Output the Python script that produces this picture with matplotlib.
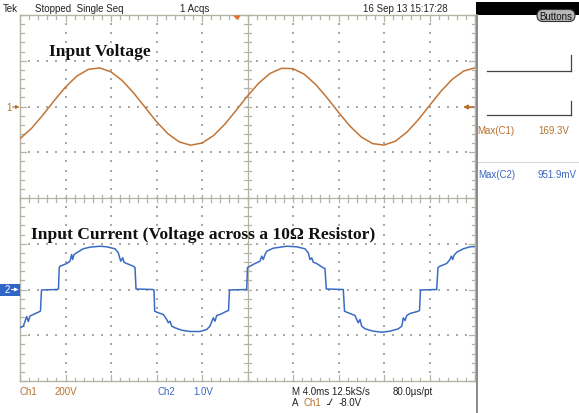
import matplotlib
matplotlib.use('Agg')
import matplotlib.pyplot as plt
from matplotlib.patches import Rectangle, FancyBboxPatch, Polygon

# ---------------- data ----------------
# Channel 1: input voltage, 200 V/div, time in ms (4 ms/div, 10 div)
time_v_ms = [0, 1, 2, 3, 4, 5, 6, 7, 8, 9, 10, 11, 12, 13, 14, 15, 16, 17, 18, 19, 20,
             21, 22, 23, 24, 25, 26, 27, 28, 29, 30, 31, 32, 33, 34, 35, 36, 37, 38, 39, 40]
ch1_volts = [-140.7, -96.1, -38.1, 25.3, 85.2, 133.0, 162.2, 168.7, 151.4, 112.8, 58.5,
             -4.1, -66.2, -118.9, -154.9, -169.2, -159.7, -127.8, -77.9, -17.1, 46.1,
             102.8, 145.1, 167.0, 165.5, 140.7, 96.1, 38.1, -25.3, -85.2, -133.0,
             -162.2, -168.7, -151.4, -112.8, -58.5, 4.1, 66.2, 118.9, 154.9, 169.2]

# Channel 2: voltage across the 10 ohm resistor, 1.0 V/div
time_i_ms = [0.00, 0.29, 0.59, 0.73, 0.88, 1.17, 1.61, 1.80, 1.89, 3.23, 3.38, 3.45, 3.52,
             4.11, 4.40, 4.54, 4.63, 4.75, 4.98, 5.56, 6.15, 7.03, 7.62, 8.35, 8.64, 8.85,
             9.03, 9.14, 9.38, 9.96, 10.11, 10.20, 11.67, 11.78, 11.84, 12.02, 12.60, 12.90,
             13.04, 13.19, 13.34, 13.63, 14.22, 14.95, 15.82, 16.41, 16.70, 16.99, 17.14,
             17.29, 17.58, 18.17, 18.33, 18.42, 19.93, 20.00, 20.22, 20.66, 21.10, 21.25,
             21.39, 21.54, 21.69, 22.27, 23.45, 24.32, 25.05, 25.35, 25.49, 25.64, 25.78,
             26.08, 26.66, 26.81, 26.93, 28.42, 28.53, 28.72, 29.45, 29.60, 29.74, 29.89,
             30.04, 30.33, 31.06, 31.80, 32.53, 33.26, 33.56, 33.70, 33.85, 34.00, 34.29,
             35.02, 35.12, 35.21, 36.63, 36.75, 36.92, 37.51, 37.80, 37.92, 38.04, 38.15,
             38.39, 38.97, 39.56, 40.00]
ch2_volts = [-0.837, -0.802, -0.590, -0.699, -0.579, -0.546, -0.496, -0.470, -0.011, 0.000,
             0.011, 0.481, 0.509, 0.568, 0.619, 0.765, 0.656, 0.765, 0.802, 0.890, 0.925,
             0.946, 0.933, 0.890, 0.802, 0.619, 0.693, 0.597, 0.568, 0.509, 0.481, 0.011,
             0.000, -0.011, -0.474, -0.496, -0.546, -0.656, -0.728, -0.693, -0.802, -0.837,
             -0.890, -0.918, -0.918, -0.874, -0.802, -0.619, -0.693, -0.568, -0.546, -0.474,
             -0.459, -0.011, 0.000, 0.481, 0.509, 0.568, 0.619, 0.728, 0.656, 0.765, 0.837,
             0.903, 0.946, 0.933, 0.890, 0.802, 0.656, 0.693, 0.597, 0.568, 0.474, 0.459,
             0.011, 0.000, -0.474, -0.496, -0.568, -0.656, -0.728, -0.656, -0.802, -0.859,
             -0.911, -0.933, -0.911, -0.859, -0.802, -0.619, -0.678, -0.568, -0.525, -0.474,
             -0.459, -0.011, 0.000, 0.481, 0.509, 0.568, 0.656, 0.728, 0.656, 0.743, 0.815,
             0.890, 0.933, 0.940]

title_voltage = "Input Voltage"
title_current = "Input Current (Voltage across a 10\u03a9 Resistor)"

# ---------------- figure ----------------
W, H = 579, 414
fig = plt.figure(figsize=(W / 100, H / 100), dpi=100)
fig.patch.set_facecolor('white')

deco = fig.add_axes([0, 0, 1, 1])
deco.set_xlim(0, W)
deco.set_ylim(H, 0)
deco.axis('off')

GX0, GX1, GY0, GY1 = 20, 475, 16, 382
DX = (GX1 - GX0) / 10
DY = (GY1 - GY0) / 8
CX = GX0 + 5 * DX
CY = GY0 + 4 * DY

GRID = '#b4b4a4'
DOT = '#a8a8a8'
ORANGE = '#c27434'
BLUE = '#3a6cc4'
TXT_O = '#b8702e'
TXT_B = '#3a66c0'

# dotted division lines
xs, ys = [], []
for i in range(1, 10):
    if i == 5:
        continue
    x = GX0 + i * DX
    for k in range(1, 40):
        xs.append(x); ys.append(GY0 + k * DY / 5)
for j in range(1, 8):
    if j == 4:
        continue
    y = GY0 + j * DY
    for k in range(1, 50):
        xs.append(GX0 + k * DX / 5); ys.append(y)
deco.scatter(xs, ys, s=0.9, c=DOT, marker='s', linewidths=0, zorder=1)

# border and center lines
deco.add_patch(Rectangle((GX0, GY0), GX1 - GX0, GY1 - GY0, fill=False,
                         edgecolor=GRID, lw=1.0, zorder=2))
deco.plot([CX, CX], [GY0, GY1], color=GRID, lw=0.9, zorder=2)
deco.plot([GX0, GX1], [CY, CY], color=GRID, lw=0.9, zorder=2)

# ticks
for k in range(0, 51):
    x = GX0 + k * DX / 5
    major = (k % 5 == 0)
    L = 6 if major else 3.5
    deco.plot([x, x], [GY0, GY0 + L], color=GRID, lw=0.9, zorder=2)
    deco.plot([x, x], [GY1, GY1 - L], color=GRID, lw=0.9, zorder=2)
    deco.plot([x, x], [CY - 3.5, CY + 3.5], color=GRID, lw=0.9, zorder=2)
for k in range(0, 41):
    y = GY0 + k * DY / 5
    major = (k % 5 == 0)
    L = 6 if major else 3.5
    deco.plot([GX0, GX0 + L], [y, y], color=GRID, lw=0.9, zorder=2)
    deco.plot([GX1, GX1 - L], [y, y], color=GRID, lw=0.9, zorder=2)
    deco.plot([CX - 3.5, CX + 3.5], [y, y], color=GRID, lw=0.9, zorder=2)

# ---------------- traces on their own scaled axes ----------------
rect = [GX0 / W, 1 - GY1 / H, (GX1 - GX0) / W, (GY1 - GY0) / H]
ax1 = fig.add_axes(rect)
ax1.set_xlim(0, 40)
ax1.set_ylim(-1200, 400)   # 200 V/div, ground 2 div above centre
ax1.axis('off')
ax1.patch.set_alpha(0)
ax1.plot(time_v_ms, ch1_volts, color=ORANGE, lw=1.1, solid_joinstyle='round')

ax2 = fig.add_axes(rect)
ax2.set_xlim(0, 40)
ax2.set_ylim(-2, 6)        # 1.0 V/div, ground 2 div below centre
ax2.axis('off')
ax2.patch.set_alpha(0)
ax2.plot(time_i_ms, ch2_volts, color=BLUE, lw=1.1, solid_joinstyle='round')

# ---------------- titles ----------------
serif = dict(family='Liberation Serif', fontweight='bold', fontsize=12.6, color='#111111')
deco.text(49, 52, title_voltage, ha='left', va='center', **serif)
deco.text(31, 235, title_current, ha='left', va='center', **serif)

# ---------------- status text ----------------
sans = dict(family='Liberation Sans', fontsize=7)
deco.text(3, 9.5, "Tek", ha='left', va='center', color='#222222', **sans)
deco.text(35, 9.5, "Stopped  Single Seq", ha='left', va='center', color='#222222', **sans)
deco.text(180, 9.5, "1 Acqs", ha='left', va='center', color='#222222', **sans)
deco.text(363, 9.5, "16 Sep 13 15:17:28", ha='left', va='center', color='#222222', **sans)

# trigger position marker
deco.add_patch(Polygon([[233, 16.5], [241, 16.5], [237, 21]], closed=True,
                       facecolor='#e8702a', edgecolor='none', zorder=5))

# channel markers
deco.text(9, 108, "1", ha='center', va='center', color=TXT_O, **sans)
deco.annotate("", xy=(19.5, 108), xytext=(12.5, 108),
              arrowprops=dict(arrowstyle='-|>', color=TXT_O, lw=0.8,
                              mutation_scale=5, shrinkA=0, shrinkB=0))
deco.annotate("", xy=(463, 108), xytext=(474, 108),
              arrowprops=dict(arrowstyle='-|>', color=TXT_O, lw=1.2,
                              mutation_scale=6, shrinkA=0, shrinkB=0))
deco.add_patch(Rectangle((0, 284.5), 19.5, 12, facecolor='#2f66c8', edgecolor='none', zorder=4))
deco.text(7.5, 290.5, "2", ha='center', va='center', color='white', zorder=5, **sans)
deco.annotate("", xy=(18.5, 290.5), xytext=(11.5, 290.5),
              arrowprops=dict(arrowstyle='-|>', color='white', lw=0.8,
                              mutation_scale=5, shrinkA=0, shrinkB=0), zorder=6)

# bottom readouts
deco.text(20, 392, "Ch1", ha='left', va='center', color=TXT_O, **sans)
deco.text(55, 392, "200V", ha='left', va='center', color=TXT_O, **sans)
deco.text(157, 392, "Ch2", ha='left', va='center', color=TXT_B, **sans)
deco.text(193, 392, "1.0V", ha='left', va='center', color=TXT_B, **sans)
deco.text(292, 392, "M 4.0ms 12.5kS/s", ha='left', va='center', color='#222222', **sans)
deco.text(393, 392, "80.0\u00b5s/pt", ha='left', va='center', color='#222222', **sans)
deco.text(292, 403, "A", ha='left', va='center', color='#222222', **sans)
deco.text(303, 403, "Ch1", ha='left', va='center', color=TXT_O, **sans)
deco.plot([326.5, 329], [405.5, 405.5], color='#333333', lw=0.7)
deco.plot([329, 332], [405.5, 400], color='#333333', lw=0.7)
deco.text(339, 403, "-8.0V", ha='left', va='center', color='#222222', **sans)

# ---------------- right side panel ----------------
deco.add_patch(Rectangle((476, 3), W - 476, 13, facecolor='black', edgecolor='none', zorder=3))
deco.plot([476.5, 476.5], [16, H], color='#8a8a8a', lw=1.4, zorder=3)
deco.add_patch(FancyBboxPatch((537, 10.5), 38, 12, boxstyle='round,pad=0,rounding_size=6',
                              facecolor='#b8b8b8', edgecolor='#303030', lw=0.8, zorder=4))
deco.text(556, 16.5, "Buttons", ha='center', va='center', color='#111111', zorder=5, **sans)

deco.plot([487, 571], [72, 72], color='#444444', lw=0.9)
deco.plot([571, 571], [56, 72], color='#444444', lw=0.9)
deco.plot([487, 571], [116, 116], color='#444444', lw=0.9)
deco.plot([571, 571], [102, 116], color='#444444', lw=0.9)

deco.text(477, 131, "Max(C1)", ha='left', va='center', color=TXT_O, **sans)
deco.text(538, 131, "169.3V", ha='left', va='center', color=TXT_O, **sans)
deco.plot([477, W], [163, 163], color='#d8d8d8', lw=0.8)
deco.text(478, 175, "Max(C2)", ha='left', va='center', color=TXT_B, **sans)
deco.text(538, 175, "951.9mV", ha='left', va='center', color=TXT_B, **sans)

fig.savefig('out.png', dpi=100, facecolor='white')
